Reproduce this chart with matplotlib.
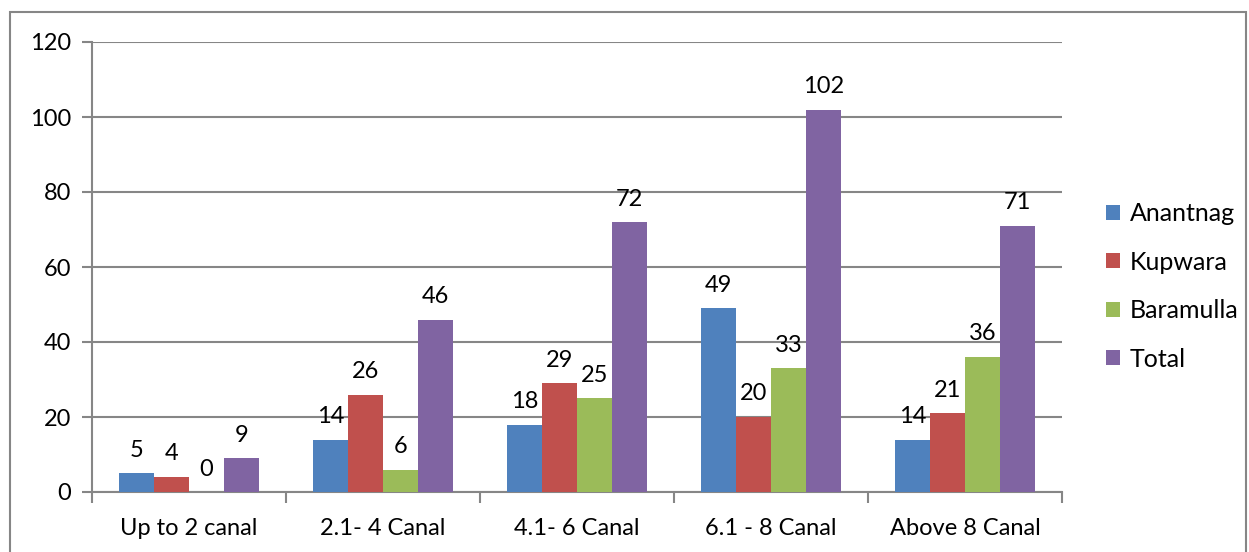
import matplotlib.pyplot as plt
import numpy as np
from matplotlib.patches import Rectangle

categories = ['Up to 2 canal', '2.1- 4 Canal', '4.1- 6 Canal', '6.1 - 8 Canal', 'Above 8 Canal']
anantnag = [5, 14, 18, 49, 14]
kupwara = [4, 26, 29, 20, 21]
baramulla = [0, 6, 25, 33, 36]
total = [9, 46, 72, 102, 71]
series_names = ['Anantnag', 'Kupwara', 'Baramulla', 'Total']
colors = ['#4F81BD', '#C0504D', '#9BBB59', '#8064A2']

plt.rcParams['font.family'] = ['Lato', 'DejaVu Sans']

fig = plt.figure(figsize=(12.49, 5.52), dpi=100)
# outer chart border
fig.patches.append(Rectangle((10/1249, -0.01), 1236/1249, 1 - 12/552 + 0.01,
                             transform=fig.transFigure, fill=False,
                             edgecolor='#868686', linewidth=1.5))

ax = fig.add_axes([92/1249, 1 - 492/552, (1062-92)/1249, (492-42)/552])

x = np.arange(len(categories))
w = 0.18
all_series = [anantnag, kupwara, baramulla, total]
for i, vals in enumerate(all_series):
    pos = x + (i - 1.5) * w
    ax.bar(pos, vals, width=w, color=colors[i], label=series_names[i], zorder=3)
    for p, v in zip(pos, vals):
        ax.annotate(str(v), (p, v), xytext=(0, 9), textcoords='offset points',
                    ha='center', va='bottom', fontsize=17, color='black')

ax.set_xlim(-0.5, len(categories) - 0.5)
ax.set_ylim(0, 120)
ax.set_yticks(range(0, 121, 20))
ax.yaxis.grid(True, color='#868686', linewidth=1.5, zorder=0)
ax.tick_params(axis='y', length=7, width=1.5, color='#868686', labelsize=17, pad=8)
ax.set_xticks(x)
ax.set_xticklabels(categories)
ax.set_xticks(np.arange(-0.5, len(categories)), minor=True)
ax.tick_params(axis='x', which='major', length=0, labelsize=17, pad=19)
ax.tick_params(axis='x', which='minor', length=8, width=1.5, color='#868686')
for s in ['top', 'right']:
    ax.spines[s].set_visible(False)
for s in ['left', 'bottom']:
    ax.spines[s].set_color('#868686')
    ax.spines[s].set_linewidth(1.5)

ax.legend(loc='center left', bbox_to_anchor=(1.022, 0.457), frameon=False,
          fontsize=18, handlelength=0.55, handleheight=0.55, labelspacing=1.02,
          handletextpad=0.4)

fig.savefig('out.png', dpi=100)
